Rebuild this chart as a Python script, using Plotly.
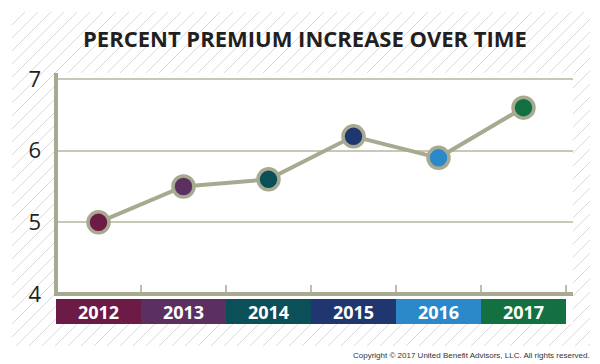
import plotly.graph_objects as go

# ---- data ----
years = ["2012", "2013", "2014", "2015", "2016", "2017"]
increase = [5.0, 5.5, 5.6, 6.2, 5.9, 6.6]
year_colors = ["#6c1a46", "#5b2f5f", "#0b5059", "#1f3670", "#2b89c9", "#137040"]
y_ticks = [4, 5, 6, 7]
title_text = "PERCENT PREMIUM INCREASE OVER TIME"
copyright_text = "Copyright © 2017 United Benefit Advisors, LLC. All rights reserved."

# ---- geometry / style ----
W, H = 600, 364
def px(x):
    return x / W
def py(y):
    return 1 - y / H

plot_left, plot_right = 56, 573
plot_top, plot_bottom = 73, 324
y_lo, y_hi = 3.581, 7.084
band_top_val = 3.93
unit_px = 71.67
olive = "#a7aa91"
grid_col = "#c6c9b5"

fig = go.Figure()

# background hatch (decoration)
hx0, hx1, hy0, hy1 = 12, 590, 12, 346
xs, ys = [], []
step = 13
x = hx0 - (hy1 - hy0)
while x < hx1:
    xs += [x, x + (hy1 - hy0), None]
    ys += [hy1, hy0, None]
    x += step
fig.add_trace(go.Scatter(x=xs, y=ys, mode="lines",
                         line=dict(color="#dadada", width=1),
                         hoverinfo="skip", showlegend=False,
                         xaxis="x", yaxis="y"))

# year band
fig.add_trace(go.Bar(x=years, y=[band_top_val - y_lo] * len(years),
                     base=[y_lo] * len(years), width=1,
                     marker=dict(color=year_colors, line=dict(width=0)),
                     text=years, textposition="inside", insidetextanchor="middle",
                     constraintext="none",
                     textfont=dict(color="white", size=18, family="Open Sans", weight="bold"),
                     hoverinfo="skip", showlegend=False,
                     xaxis="x2", yaxis="y2"))

# line + markers
fig.add_trace(go.Scatter(x=years, y=increase, mode="lines+markers",
                         line=dict(color=olive, width=4),
                         marker=dict(size=21, color=year_colors,
                                     line=dict(color=olive, width=3.5)),
                         cliponaxis=False, showlegend=False,
                         xaxis="x2", yaxis="y2"))

shapes = []
# left axis line
shapes.append(dict(type="line", xref="x2 domain", yref="y2", x0=0, x1=0,
                   y0=4 - 2 / unit_px, y1=y_hi, line=dict(color=olive, width=4)))
# bottom axis line
shapes.append(dict(type="line", xref="x2 domain", yref="y2",
                   x0=-2 / (plot_right - plot_left), x1=1, y0=4, y1=4,
                   line=dict(color=olive, width=4)))
# category boundary ticks
for i in range(len(years)):
    shapes.append(dict(type="line", xref="x2", yref="y2", x0=i + 0.5, x1=i + 0.5,
                       y0=4, y1=4 + 9 / unit_px, line=dict(color=olive, width=1.5)))

fig.update_layout(
    template="none",
    width=W, height=H, autosize=False,
    margin=dict(l=0, r=0, t=0, b=0, pad=0),
    paper_bgcolor="white", plot_bgcolor="white",
    showlegend=False, bargap=0,
    xaxis=dict(domain=[px(hx0), px(hx1)], range=[hx0, hx1], visible=False,
               fixedrange=True, automargin=False),
    yaxis=dict(domain=[py(hy1), py(hy0)], range=[hy1, hy0], visible=False,
               fixedrange=True, automargin=False),
    xaxis2=dict(domain=[px(plot_left), px(plot_right)], anchor="y2",
                type="category", range=[-0.5, -0.5 + (plot_right - plot_left) / 85],
                showgrid=False, zeroline=False, showticklabels=False,
                showline=False, ticks="", fixedrange=True, automargin=False),
    yaxis2=dict(domain=[py(plot_bottom), py(plot_top)], anchor="x2",
                range=[y_lo, y_hi], tickvals=y_ticks, ticks="",
                ticklabelstandoff=14, automargin=False,
                showgrid=True, gridcolor=grid_col, gridwidth=1.5,
                zeroline=False, showline=False, fixedrange=True,
                tickfont=dict(family="Open Sans", size=22, color="#231f20")),
    shapes=shapes,
    annotations=[
        dict(text=title_text, xref="paper", yref="paper", x=px(305), y=py(38),
             xanchor="center", yanchor="middle", showarrow=False,
             font=dict(family="Open Sans", size=22, color="#231f20", weight="bold")),
        dict(text=copyright_text, xref="paper", yref="paper", x=px(592), y=py(355),
             xanchor="right", yanchor="middle", showarrow=False,
             font=dict(family="Liberation Sans Narrow, Arial Narrow, sans-serif",
                       size=8, color="#333333")),
    ],
)

fig.write_html("out.html", config={"displayModeBar": False},
               post_script="document.body.style.margin='0';document.body.style.padding='0';")
